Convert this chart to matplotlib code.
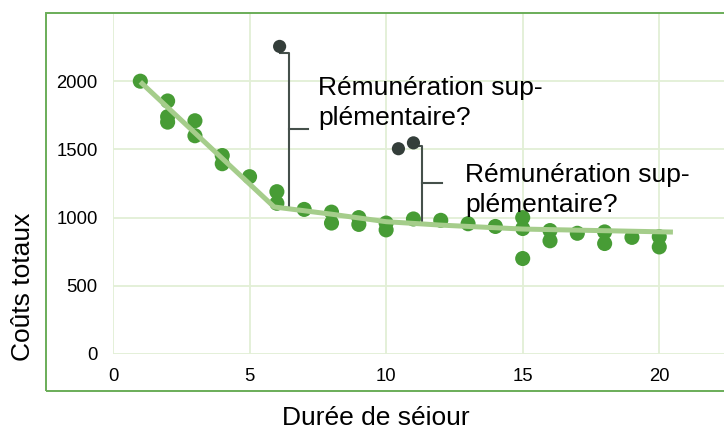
import matplotlib
matplotlib.use("Agg")
import matplotlib.pyplot as plt
from matplotlib.patches import Rectangle

plt.rcParams['font.family'] = ['Liberation Sans', 'DejaVu Sans']

# Data: stay length vs total cost
stay_x = [1, 2, 2, 2, 3, 3, 4, 4, 5, 6, 6, 7, 8, 8, 9, 9, 10, 10, 11, 12, 13, 14,
          15, 15, 15, 16, 16, 17, 18, 18, 19, 20, 20]
cost_y = [2000, 1855, 1740, 1700, 1710, 1600, 1455, 1395, 1300, 1190, 1105, 1060,
          1040, 960, 1000, 950, 960, 910, 990, 980, 955, 935,
          1000, 920, 700, 905, 830, 885, 895, 810, 855, 860, 785]

outlier_x = [6.1, 10.45, 11.0]
outlier_y = [2255, 1505, 1548]

trend_x = [1, 5.9, 8, 10, 12, 15, 20.5]
trend_y = [1995, 1078, 1025, 970, 945, 916, 894]

xticks = [0, 5, 10, 15, 20]
yticks = [0, 500, 1000, 1500, 2000]

annot_text = ["Rémunération sup-", "plémentaire?"]
# bracket: x, top, bottom, mid, tick end, dot x
brackets = [
    dict(x=6.45, top=2205, bottom=1075, mid=1648, tick=7.14, dotx=6.1),
    dict(x=11.33, top=1524, bottom=975, mid=1253, tick=12.05, dotx=11.0),
]
text_pos = [(7.5, 1897, 1678), (12.9, 1260, 1040)]

W, H = 724, 430
fig = plt.figure(figsize=(W / 100, H / 100), dpi=100)
ax = fig.add_axes([113 / W, (H - 354) / H, (W - 113) / W, (354 - 13) / H])
ax.set_xlim(0, 22.37)
ax.set_ylim(0, 2500)

for s in ax.spines.values():
    s.set_visible(False)

grid_c = '#e2efd6'
ax.set_xticks(xticks)
ax.set_yticks(yticks)
ax.grid(True, color=grid_c, linewidth=1.3, zorder=0)
ax.tick_params(length=0, labelsize=13.3, colors='black')
ax.tick_params(axis='y', pad=11)
ax.tick_params(axis='x', pad=10)

ax.scatter(stay_x, cost_y, s=118, color='#479c35', edgecolors='none', zorder=3)
ax.plot(trend_x, trend_y, color='#a5cd8b', linewidth=3.6, solid_capstyle='butt', zorder=4)

bc = '#45504b'
for b in brackets:
    ax.plot([b['dotx'], b['x'], b['x']], [b['top'], b['top'], b['bottom']],
            color=bc, linewidth=1.5, zorder=2)
    ax.plot([b['x'], b['tick']], [b['mid'], b['mid']], color=bc, linewidth=1.5, zorder=2)

ax.scatter(outlier_x, outlier_y, s=90, color='#343e3a', edgecolors='none', zorder=5)

for (tx, y1, y2) in text_pos:
    ax.text(tx, y1, annot_text[0], fontsize=19, ha='left', va='baseline', zorder=6)
    ax.text(tx, y2, annot_text[1], fontsize=19, ha='left', va='baseline', zorder=6)

# outer frame
fig.patches.append(Rectangle((46 / W, (H - 391) / H), (W - 46 + 10) / W, (391 - 13) / H,
                             transform=fig.transFigure, fill=False,
                             edgecolor='#6aad58', linewidth=1.4, clip_on=False))

fig.text(376 / W, (H - 425) / H, "Durée de séiour", fontsize=19, ha='center', va='baseline')
fig.text(23 / W, (H - 287) / H, "Coûts totaux", fontsize=19, ha='center', va='center',
         rotation=90)

fig.savefig('out.png', dpi=100)
